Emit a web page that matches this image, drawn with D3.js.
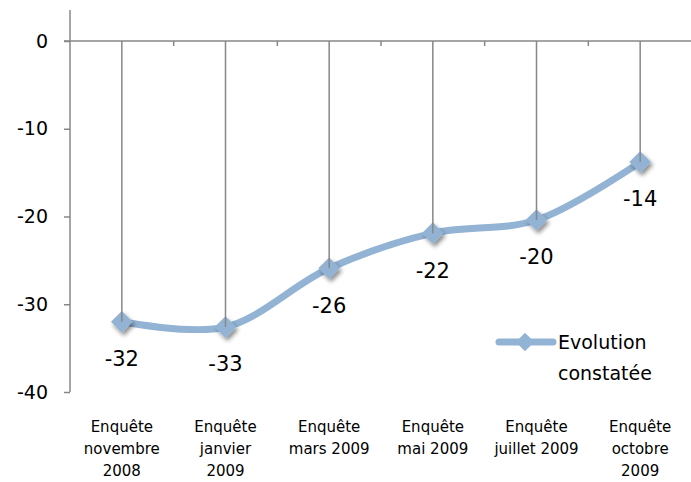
<!DOCTYPE html>
<html>
<head>
<meta charset="utf-8">
<script src="https://cdn.jsdelivr.net/npm/d3@7"></script>
<style>
  body { margin: 0; background: #fff; }
  text { font-family: "DejaVu Sans", sans-serif; fill: #000; }
</style>
</head>
<body>
<div id="chart"></div>
<script>
// data
var categories = ["nov2008", "jan2009", "mar2009", "mai2009", "jul2009", "oct2009"];
var categoryLines = [
  ["Enquête", "novembre", "2008"],
  ["Enquête", "janvier", "2009"],
  ["Enquête", "mars 2009"],
  ["Enquête", "mai 2009"],
  ["Enquête", "juillet 2009"],
  ["Enquête", "octobre", "2009"]
];
var values = [-32.0, -32.6, -25.9, -21.9, -20.4, -13.8];
var yTicks = [0, -10, -20, -30, -40];
var seriesName = ["Evolution", "constatée"];

var svgWidth = 691, svgHeight = 482;
var lineColor = "#93b3d4";
var axisColor = "#878787";

var svg = d3.select("#chart").append("svg")
  .attr("width", svgWidth)
  .attr("height", svgHeight);

// drop shadow for the markers
var defs = svg.append("defs");
var f = defs.append("filter").attr("id", "shadow")
  .attr("x", "-50%").attr("y", "-50%").attr("width", "200%").attr("height", "200%");
f.append("feDropShadow")
  .attr("dx", 2).attr("dy", 3).attr("stdDeviation", 2)
  .attr("flood-color", "#000").attr("flood-opacity", 0.45);

var x = d3.scaleBand()
  .domain(categories)
  .range([70, 692]);

var y = d3.scaleLinear()
  .domain([-40, 0])
  .range([392, 41]);

// y axis
var leftAxis = d3.axisLeft(y).tickValues(yTicks).tickSize(6).tickPadding(16)
  .tickFormat(d => String(d));
var gy = svg.append("g").attr("transform", "translate(70,0)").call(leftAxis);
gy.select(".domain").remove();
gy.selectAll(".tick line").attr("stroke", axisColor).attr("stroke-width", 1.5);
gy.selectAll(".tick text").style("font-size", "19px").attr("fill", "#000");
svg.append("line")
  .attr("x1", 70).attr("x2", 70)
  .attr("y1", 10).attr("y2", y(-40))
  .attr("stroke", axisColor).attr("stroke-width", 1.5);

// x axis at zero, ticks on band boundaries
svg.append("line")
  .attr("x1", 64).attr("x2", 692)
  .attr("y1", y(0)).attr("y2", y(0))
  .attr("stroke", axisColor).attr("stroke-width", 1.5);
svg.selectAll(".xtick")
  .data(categories.slice(1))
  .enter().append("line")
  .attr("x1", d => x(d)).attr("x2", d => x(d))
  .attr("y1", y(0)).attr("y2", y(0) + 5)
  .attr("stroke", axisColor).attr("stroke-width", 1.5);

// category labels
var catG = svg.selectAll(".cat")
  .data(categories)
  .enter().append("text")
  .attr("text-anchor", "middle")
  .style("font-size", "15px");
catG.each(function(d, i) {
  var t = d3.select(this);
  categoryLines[i].forEach(function(line, j) {
    t.append("tspan")
      .attr("x", x(d) + x.bandwidth() / 2)
      .attr("y", 427 + j * 22)
      .attr("dy", "0.35em")
      .text(line);
  });
});

var cx = (d, i) => x(categories[i]) + x.bandwidth() / 2;

// smoothed line
var line = d3.line()
  .x((d, i) => cx(d, i))
  .y(d => y(d))
  .curve(d3.curveCatmullRom.alpha(0.5));

svg.append("path")
  .datum(values)
  .attr("d", line)
  .attr("fill", "none")
  .attr("stroke", lineColor)
  .attr("stroke-width", 7)
  .attr("stroke-linecap", "round");

// markers
var diamond = d3.symbol().type(d3.symbolDiamond2).size(300);
svg.selectAll(".marker")
  .data(values)
  .enter().append("path")
  .attr("d", diamond)
  .attr("transform", (d, i) => `translate(${cx(d, i)},${y(d)})`)
  .attr("fill", lineColor)
  .attr("filter", "url(#shadow)");

// drop lines from the axis down to each point
svg.selectAll(".drop")
  .data(values)
  .enter().append("line")
  .attr("x1", (d, i) => cx(d, i)).attr("x2", (d, i) => cx(d, i))
  .attr("y1", y(0)).attr("y2", d => y(d))
  .attr("stroke", axisColor).attr("stroke-width", 1.5);

// data labels
svg.selectAll(".lbl")
  .data(values)
  .enter().append("text")
  .attr("x", (d, i) => cx(d, i))
  .attr("y", d => y(d) + 37)
  .attr("dy", "0.35em")
  .attr("text-anchor", "middle")
  .style("font-size", "21px")
  .text(d => String(Math.round(d)));

// legend
svg.append("line")
  .attr("x1", 499).attr("x2", 553)
  .attr("y1", 342).attr("y2", 342)
  .attr("stroke", lineColor).attr("stroke-width", 7)
  .attr("stroke-linecap", "round");
svg.append("path")
  .attr("d", d3.symbol().type(d3.symbolDiamond2).size(220))
  .attr("transform", "translate(525,342)")
  .attr("fill", lineColor);
svg.selectAll(".leg")
  .data(seriesName)
  .enter().append("text")
  .attr("x", 558)
  .attr("y", (d, i) => 342 + i * 31)
  .attr("dy", "0.35em")
  .style("font-size", "19px")
  .text(d => d);
</script>
</body>
</html>
